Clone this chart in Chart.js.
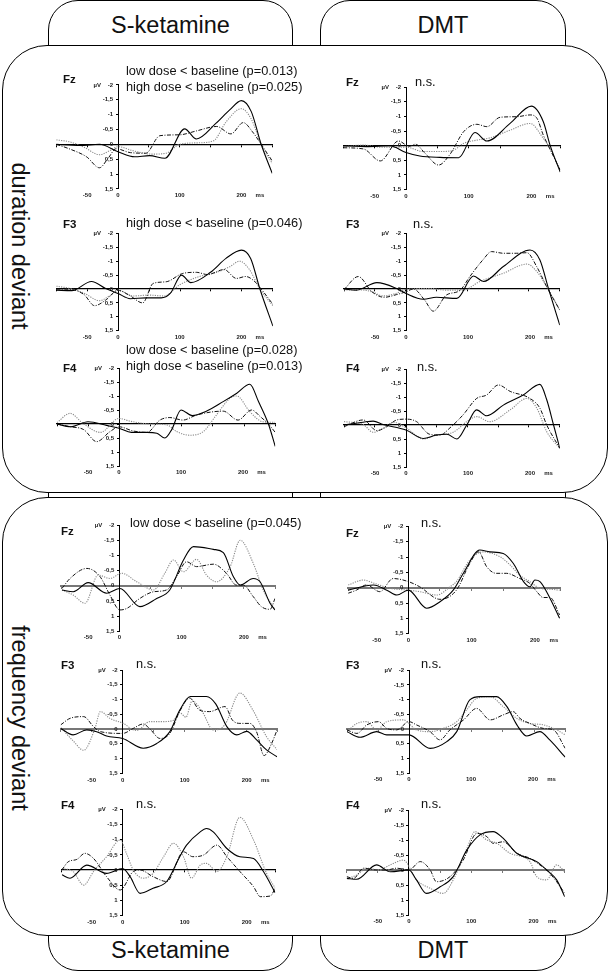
<!DOCTYPE html>
<html>
<head>
    <meta charset="UTF-8">
    <title>MMN amplitude curves</title>
    <script src="https://cdn.jsdelivr.net/npm/chart.js"></script>
    <style>
        body { margin: 0; background: #fff; }
        #fig { position: relative; width: 610px; height: 971px; overflow: hidden; font-family: "Liberation Sans", Arial, sans-serif; color: #111; }
        .col, .box { position: absolute; box-sizing: border-box; border: 1px solid #000; background: #fff; }
        .col { border-radius: 30px; }
        .box { border-radius: 45px; }
        .tab { position: absolute; font-size: 23.5px; text-align: center; line-height: 24px; }
        .side { position: absolute; font-size: 23.5px; white-space: nowrap; line-height: 24px; transform: translate(-50%, -50%) rotate(90deg); }
        .txt { position: absolute; white-space: nowrap; }
        canvas { position: absolute; }
    </style>
</head>
<body>
<div id="fig">
    <div class="col" style="left:48px;top:0;width:245px;height:971px;"></div>
    <div class="col" style="left:320px;top:0;width:246px;height:971px;"></div>
    <div class="box" style="left:2px;top:45px;width:606px;height:448px;"></div>
    <div class="box" style="left:2px;top:497px;width:606px;height:439px;"></div>
    <div class="tab" style="left:48px;top:13px;width:245px;">S-ketamine</div>
    <div class="tab" style="left:320px;top:13px;width:246px;">DMT</div>
    <div class="tab" style="left:48px;top:938px;width:245px;">S-ketamine</div>
    <div class="tab" style="left:320px;top:938px;width:246px;">DMT</div>
    <div class="side" style="left:20px;top:246px;">duration deviant</div>
    <div class="side" style="left:20px;top:718px;">frequency deviant</div>
</div>
<script>
    // axes
    const yMin = -2, yMax = 1.5;
    const yStep = 0.5;
    const xTickStep = 50;
    const xLabelTicks = [-50, 0, 100, 200, 230];   // 230 carries the "ms" unit

    // panel texts (reading order: duration rows, then frequency rows; left S-ketamine, right DMT)
    const panelTitles = ['Fz', 'Fz', 'F3', 'F3', 'F4', 'F4', 'Fz', 'Fz', 'F3', 'F3', 'F4', 'F4'];
    const panelNotes = [
        ['low dose < baseline (p=0.013)', 'high dose < baseline (p=0.025)'],
        ['n.s.'],
        ['high dose < baseline (p=0.046)'],
        ['n.s.'],
        ['low dose < baseline (p=0.028)', 'high dose < baseline (p=0.013)'],
        ['n.s.'],
        ['low dose < baseline (p=0.045)'],
        ['n.s.'],
        ['n.s.'],
        ['n.s.'],
        ['n.s.'],
        ['n.s.']
    ];

    // [ms, µV] - solid (baseline), dashed (low dose), dotted (high dose)
    // duration deviant
    const durKetFzBase = [[-100,0],[-62,0.04],[-30,0],[0,0.25],[27,0.42],[51,0.38],[76,0.47],[108,-0.52],[127,-0.18],[159,-0.71],[181,-1.16],[200,-1.47],[216,-1.1],[232,0],[250,0.98]];
    const durKetFzLow = [[-100,0],[-78,0.16],[-51,0.42],[-30,0.79],[-16,0.47],[-3,0.15],[20,0.28],[45,0.3],[68,-0.29],[100,-0.32],[127,-0.45],[160,-0.6],[183,-0.35],[203,-0.73],[218,-0.42],[232,0],[250,0.56]];
    const durKetFzHigh = [[-100,-0.15],[-78,-0.08],[-55,0.1],[-30,0.35],[-12,0.2],[0,0.08],[25,0.22],[55,0.33],[78,0.3],[100,0],[130,-0.05],[155,-0.12],[175,-0.75],[200,-1.2],[216,-0.85],[232,0],[250,0.65]];

    const durDmtFzBase = [[-100,0],[-63,0.03],[-26,0],[0,0.23],[22,0.35],[54,0.4],[84,0.41],[110,-0.45],[129,-0.16],[166,-0.76],[200,-1.35],[219,-0.82],[230,0],[246,0.9]];
    const durDmtFzLow = [[-100,0.07],[-68,0.11],[-41,0.52],[-12,-0.16],[5,0.02],[15,-0.05],[30,0.25],[52,0.66],[70,0.3],[92,-0.48],[113,-0.73],[129,-0.65],[150,-0.97],[177,-0.99],[198,-1.05],[209,-0.93],[219,-0.36],[227,0],[246,0.83]];
    const durDmtFzHigh = [[-100,0.03],[-68,-0.02],[-40,0.05],[-15,0.05],[0,0.05],[28,0.2],[55,0.2],[76,0.15],[92,-0.08],[113,-0.19],[134,-0.27],[166,-0.53],[198,-0.76],[219,-0.25],[227,0],[246,0.83]];

    const durKetF3Base = [[-100,0.04],[-75,0.06],[-43,-0.27],[-20,-0.02],[0,0.16],[20,0.35],[45,0.32],[70,0.32],[85,0.15],[103,-0.5],[118,-0.23],[150,-0.6],[175,-1.1],[200,-1.4],[215,-1.1],[230,0],[251,1.33]];
    const durKetF3Low = [[-100,0],[-75,0.02],[-55,0.2],[-38,0.6],[-20,0.4],[0,0.05],[20,0.25],[40,0.5],[57,-0.2],[78,-0.26],[105,-0.56],[127,-0.6],[145,-0.52],[172,-0.7],[192,-0.38],[207,-0.45],[220,-0.3],[232,0],[251,0.55]];
    const durKetF3High = [[-100,-0.1],[-78,-0.02],[-55,0.15],[-30,0.42],[-12,0.22],[0,0.04],[25,0.25],[50,0.22],[75,0.25],[100,-0.15],[132,-0.45],[160,-0.6],[181,-0.8],[197,-1],[213,-0.7],[230,0],[251,0.6]];

    const durDmtF3Base = [[-100,0],[-80,0.04],[-47,-0.23],[-15,-0.02],[0,0.16],[28,0.37],[49,0.3],[82,0.34],[109,-0.47],[125,-0.27],[157,-0.81],[200,-1.41],[216,-1.05],[230,0],[248,1.3]];
    const durDmtF3Low = [[-100,0.02],[-77,-0.45],[-55,0.1],[-35,0.3],[-15,0.2],[0,0.1],[12,0],[30,0.4],[44,0.8],[65,0.22],[87,0.05],[103,-0.45],[124,-1.05],[138,-1.35],[157,-1.29],[178,-1.29],[195,-1.31],[211,-0.8],[227,-0.08],[248,0.76]];
    const durDmtF3High = [[-100,0.03],[-75,0.03],[-55,0.1],[-37,0.25],[-15,0.15],[0,0.01],[38,-0.02],[65,0.04],[92,0.04],[119,-0.27],[157,-0.57],[195,-0.9],[211,-0.63],[227,-0.08],[248,0.76]];

    const durKetF4Base = [[-100,0],[-78,0.1],[-50,-0.08],[-20,0.05],[0,0.15],[20,0.3],[45,0.3],[61,0.33],[74,0.5],[85,0.2],[100,-0.5],[118,-0.3],[140,-0.45],[168,-0.8],[190,-1.1],[211,-1.42],[225,-0.8],[241,0],[252,0.8]];
    const durKetF4Low = [[-100,0],[-78,0.1],[-57,0.2],[-36,0.63],[-15,0.28],[0,0.1],[23,0.25],[45,0.3],[66,-0.14],[82,-0.23],[103,-0.14],[125,-0.32],[168,-0.46],[192,-0.14],[214,-0.5],[228,-0.26],[241,0],[252,0.3]];
    const durKetF4High = [[-100,-0.05],[-79,-0.38],[-58,-0.02],[-30,0.3],[0,-0.2],[18,-0.1],[50,0],[77,0.03],[93,0.27],[114,0.4],[136,0.27],[157,-0.32],[179,-0.92],[190,-1],[211,-0.44],[232,-0.08],[252,-0.06]];

    const durDmtF4Base = [[-100,0],[-69,-0.1],[-53,-0.14],[-37,-0.02],[0,0.18],[28,0.48],[49,0.36],[66,0.33],[82,0.5],[98,0],[114,-0.54],[130,-0.33],[157,-0.71],[189,-1.07],[216,-1.45],[227,-0.9],[238,0],[248,0.83]];
    const durDmtF4Low = [[-100,0.06],[-69,-0.18],[-47,0.2],[-31,0.06],[-15,-0.18],[0,-0.21],[17,-0.12],[38,0.33],[55,0.36],[71,0.1],[92,-0.36],[114,-0.95],[130,-1.07],[149,-1.43],[168,-1.2],[200,-0.95],[216,-0.6],[227,0],[248,0.83]];
    const durDmtF4High = [[-100,-0.12],[-69,-0.02],[-53,0.26],[-37,0.12],[-20,-0.1],[0,0.1],[28,0.5],[49,0.36],[76,0.26],[98,-0.12],[114,-0.3],[135,-0.12],[168,-0.54],[195,-0.95],[211,-0.6],[227,0.24],[248,0.83]];

    // frequency deviant
    const frqKetFzBase = [[-92,0.14],[-74,0.2],[-50,-0.1],[-20,0.25],[1,0.09],[33,0.69],[60,0.42],[81,0.14],[103,-0.85],[119,-1.29],[151,-1.2],[167,-1.09],[183,-0.3],[194,-0.02],[215,-0.24],[226,-0.13],[242,0.58],[250,0.8]];
    const frqKetFzLow = [[-92,0.09],[-79,-0.24],[-52,-0.57],[-31,-0.3],[-15,0.31],[1,0.8],[12,0.75],[33,0.42],[55,0.2],[76,0.14],[92,-0.3],[108,-0.79],[124,-0.63],[151,-0.71],[172,-0.41],[188,-0.02],[199,-0.02],[215,0.36],[228,0.69],[242,0.78],[250,0.42]];
    const frqKetFzHigh = [[-92,0.14],[-74,0.31],[-55,0.58],[-34,-0.35],[-15,-0.24],[4,-0.41],[28,-0.13],[55,0.14],[73,-0.41],[87,-0.85],[103,-0.46],[124,-0.87],[140,-0.35],[156,-0.13],[178,-0.63],[194,-1.5],[215,-0.74],[231,0.14],[250,0.8]];

    const frqDmtFzBase = [[-95,0.08],[-55,-0.09],[-34,0.08],[-18,0.24],[0,0.08],[29,0.67],[50,0.46],[71,0.08],[87,-0.47],[113,-1.23],[129,-1.17],[150,-1.12],[166,-0.79],[182,-0.2],[192,-0.03],[200,-0.25],[208,-0.2],[224,0.35],[239,1]];
    const frqDmtFzLow = [[-95,0.18],[-82,0.08],[-66,-0.09],[-45,0.13],[-24,-0.3],[0,-0.2],[18,-0.03],[50,0.38],[76,0.08],[97,-0.79],[111,-1.17],[124,-0.68],[139,-0.47],[155,-0.47],[176,-0.3],[192,-0.14],[203,0.13],[213,0.32],[224,0.32],[239,0.89]];
    const frqDmtFzHigh = [[-95,-0.09],[-71,-0.25],[-53,-0.14],[-29,0.02],[0,0.08],[18,0.13],[45,0.24],[66,-0.03],[76,-0.2],[97,-0.9],[118,-1.17],[145,-1.01],[161,-0.74],[176,-0.41],[192,-0.2],[208,0.02],[224,0.05],[239,0.08]];

    const frqKetF3Base = [[-100,-0.02],[-80,0.2],[-58,0.03],[-42,0.09],[-26,0.24],[0,0.32],[33,0.65],[55,0.49],[76,0.09],[92,-0.64],[109,-1.1],[135,-1.1],[150,-0.85],[168,-0.08],[184,0.2],[200,0.08],[216,0.37],[232,0.71],[249,0.94]];
    const frqKetF3Low = [[-100,-0.14],[-85,-0.36],[-63,-0.42],[-47,-0.08],[-36,0.09],[0,0.15],[17,-0.02],[33,-0.17],[44,0],[60,0.32],[76,0.15],[92,-0.6],[108,-1.05],[124,-0.64],[140,-0.59],[165,-0.76],[177,-0.3],[189,-0.19],[205,-0.19],[216,0.1],[228,0.9],[240,0.5],[249,0.03]];
    const frqKetF3High = [[-100,-0.05],[-80,0.4],[-63,0.72],[-45,0],[-36,-0.59],[-20,-0.35],[0,-0.2],[22,0.05],[44,-0.25],[65,-0.25],[82,-0.3],[92,-0.55],[102,-0.4],[112,-0.95],[128,-0.6],[146,0.03],[165,-0.15],[189,-1.22],[210,-0.64],[232,0.26],[249,0.7]];

    const frqDmtF3Base = [[-100,0.09],[-79,0.28],[-52,0.09],[-36,0.2],[0,0.2],[34,0.66],[61,0.43],[77,0.09],[98,-0.99],[115,-1.1],[141,-1.1],[158,-0.76],[174,-0.14],[190,0.24],[211,0.09],[227,0.37],[252,0.96]];
    const frqDmtF3Low = [[-100,0.03],[-84,0.15],[-68,-0.14],[-49,-0.25],[-36,-0.02],[-20,0.03],[0,-0.25],[12,-0.14],[34,0.09],[50,0.37],[66,0.03],[88,-0.31],[109,-0.7],[131,-0.31],[152,-0.48],[168,-0.59],[179,-0.36],[195,-0.19],[217,-0.02],[233,0.03],[252,0.66]];
    const frqDmtF3High = [[-100,0.09],[-84,-0.19],[-68,-0.25],[-52,0.03],[-36,-0.25],[-9,-0.31],[12,0.03],[34,0.09],[55,-0.02],[77,-0.25],[93,-0.65],[109,-1.04],[131,-1.1],[152,-0.76],[174,-0.36],[195,-0.19],[217,-0.14],[238,0.03],[252,0.2]];

    const frqKetF4Base = [[-98,0.16],[-85,0.27],[-58,-0.16],[-26,0.11],[0,-0.05],[12,0.22],[28,0.77],[49,0.6],[71,0.38],[92,-0.44],[103,-0.82],[125,-1.26],[135,-1.37],[146,-1.26],[168,-0.71],[189,-0.44],[211,-0.38],[227,0.05],[246,0.75]];
    const frqKetF4Low = [[-98,0],[-88,-0.27],[-74,-0.35],[-61,-0.55],[-47,-0.38],[-26,0.22],[-4,0.66],[17,0.05],[28,0],[49,0.22],[71,0.38],[98,-0.6],[113,-0.44],[130,-0.49],[152,-0.82],[168,-0.44],[189,0.05],[211,0.55],[222,0.88],[238,0.86],[246,0.6]];
    const frqKetF4High = [[-98,-0.05],[-80,0.05],[-63,0.5],[-47,0.05],[-26,-0.44],[-4,-0.99],[6,-0.55],[17,0],[33,0.27],[49,0.11],[66,-0.44],[82,-0.88],[98,-0.44],[111,0.27],[125,-0.16],[135,-0.22],[152,0.05],[168,-0.44],[189,-1.74],[211,-0.99],[232,0.11],[246,0.6]];

    const frqDmtF4Base = [[-100,0.28],[-84,0.31],[-52,-0.17],[-30,0.06],[0,0],[12,0.33],[28,0.78],[50,0.56],[71,0.22],[93,-0.67],[114,-1.17],[135,-1.28],[151,-1.06],[173,-0.56],[205,-0.28],[221,0],[237,0.33],[250,0.89]];
    const frqDmtF4Low = [[-100,0.22],[-89,0.28],[-73,-0.06],[-52,0],[-36,0],[-20,-0.06],[0,0],[18,-0.28],[34,0],[44,0.39],[66,0.22],[87,-0.33],[109,-1.22],[125,-1.11],[135,-0.89],[151,-0.94],[173,-0.56],[194,-0.39],[210,-0.17],[221,0],[237,0.39],[250,0.78]];
    const frqDmtF4High = [[-100,0.28],[-84,0.17],[-68,-0.06],[-49,0],[-30,-0.17],[-9,-0.33],[12,0.33],[34,0.61],[55,0.78],[71,0.33],[93,-0.72],[106,-1.28],[125,-1],[141,-0.89],[162,-0.56],[194,-0.28],[205,0.22],[221,0.33],[237,-0.17],[250,0.06]];

    const panelSeries = [
        [durKetFzBase, durKetFzLow, durKetFzHigh], [durDmtFzBase, durDmtFzLow, durDmtFzHigh],
        [durKetF3Base, durKetF3Low, durKetF3High], [durDmtF3Base, durDmtF3Low, durDmtF3High],
        [durKetF4Base, durKetF4Low, durKetF4High], [durDmtF4Base, durDmtF4Low, durDmtF4High],
        [frqKetFzBase, frqKetFzLow, frqKetFzHigh], [frqDmtFzBase, frqDmtFzLow, frqDmtFzHigh],
        [frqKetF3Base, frqKetF3Low, frqKetF3High], [frqDmtF3Base, frqDmtF3Low, frqDmtF3High],
        [frqKetF4Base, frqKetF4Low, frqKetF4High], [frqDmtF4Base, frqDmtF4Low, frqDmtF4High]
    ];

    // where each small plot sits on the page (0 ms x, 0 µV y, px per ms, px per µV, time span)
    const layout = [
        {ax: 118,   zy: 144.3, ms: 0.617, uv: 29.7, x0: -100, x1: 250, zc: '#000', title: [63, 84],     note: [126, 75.7]},
        {ax: 406,   zy: 145.7, ms: 0.627, uv: 29.3, x0: -100, x1: 246, zc: '#000', title: [346, 86.7],   note: [415, 86.7]},
        {ax: 118,   zy: 289,   ms: 0.617, uv: 27.8, x0: -100, x1: 251, zc: '#000', title: [63, 228.3],   note: [126, 228.3]},
        {ax: 406,   zy: 289,   ms: 0.62,  uv: 27.7, x0: -100, x1: 248, zc: '#000', title: [346, 229],    note: [413, 229]},
        {ax: 119,   zy: 424,   ms: 0.62,  uv: 28,   x0: -100, x1: 252, zc: '#000', title: [63, 372.3],   note: [126, 355]},
        {ax: 406,   zy: 425,   ms: 0.62,  uv: 28,   x0: -100, x1: 248, zc: '#000', title: [346, 372.3],  note: [417, 372.3]},
        {ax: 119.3, zy: 585.7, ms: 0.623, uv: 30.3, x0: -93,  x1: 250, zc: '#777', title: [61, 536],     note: [130, 528.3]},
        {ax: 408.3, zy: 587.7, ms: 0.633, uv: 30.6, x0: -95,  x1: 240, zc: '#777', title: [346, 537.3],  note: [421, 528.3]},
        {ax: 122.7, zy: 729,   ms: 0.62,  uv: 29.5, x0: -100, x1: 249, zc: '#777', title: [61, 669.3],   note: [136, 669.3]},
        {ax: 409,   zy: 729,   ms: 0.62,  uv: 29.4, x0: -100, x1: 252, zc: '#777', title: [346, 669.3],  note: [421, 669.3]},
        {ax: 122.7, zy: 870,   ms: 0.62,  uv: 30.3, x0: -98,  x1: 246, zc: '#000', title: [61, 809.3],   note: [136, 809.3]},
        {ax: 409,   zy: 870,   ms: 0.623, uv: 30,   x0: -100, x1: 250, zc: '#777', title: [346, 809.3],  note: [421, 809.3]}
    ];

    const lineStyles = [
        {borderColor: '#000', borderWidth: 1.1, borderDash: []},
        {borderColor: '#111', borderWidth: 1, borderDash: [4, 1.5, 1, 1.5]},
        {borderColor: '#8a8a8a', borderWidth: 1.1, borderDash: [1.2, 1.2]}
    ];

    const fig = document.getElementById('fig');
    const tickFont = {family: '"Liberation Sans", Arial, sans-serif', size: 6, weight: 'bold'};

    function addText(txt, x, baseline, size, bold) {
        const d = document.createElement('div');
        d.className = 'txt';
        d.textContent = txt;
        d.style.left = x + 'px';
        d.style.top = (baseline - 0.846 * size) + 'px';
        d.style.fontSize = size + 'px';
        d.style.lineHeight = size + 'px';
        if (bold) d.style.fontWeight = 'bold';
        fig.appendChild(d);
    }

    function fmtUV(v) {
        const s = String(Math.round(v * 10) / 10).replace('.', ',');
        return (v === yMin ? 'µV    ' + s : s) + '   ';
    }

    function makePanel(i) {
        const L = layout[i];
        const areaW = (L.x1 - L.x0) * L.ms;
        const areaH = (yMax - yMin) * L.uv;
        const areaLeft = L.ax + L.x0 * L.ms;
        const areaTop = L.zy + yMin * L.uv;
        const cLeft = Math.floor(areaLeft - 6), cTop = Math.floor(areaTop - 8);
        const cW = Math.ceil(areaLeft + areaW + 8) - cLeft;
        const cH = Math.ceil(areaTop + areaH + 16) - cTop;
        const pad = {
            left: areaLeft - cLeft, top: areaTop - cTop,
            right: cW - (areaLeft - cLeft) - areaW, bottom: cH - (areaTop - cTop) - areaH
        };

        const cv = document.createElement('canvas');
        cv.width = cW; cv.height = cH;
        cv.style.left = cLeft + 'px'; cv.style.top = cTop + 'px';
        cv.style.width = cW + 'px'; cv.style.height = cH + 'px';
        fig.appendChild(cv);

        const datasets = panelSeries[i].map((arr, k) => Object.assign({
            data: arr.map(p => ({x: p[0], y: p[1]})),
            fill: false,
            pointRadius: 0,
            cubicInterpolationMode: 'monotone'
        }, lineStyles[k]));

        const zeroW = L.zc === '#000' ? 1.3 : 2;

        new Chart(cv.getContext('2d'), {
            type: 'line',
            data: {datasets: datasets},
            options: {
                responsive: false,
                animation: false,
                devicePixelRatio: 1,
                layout: {padding: pad},
                plugins: {legend: {display: false}, tooltip: {enabled: false}},
                scales: {
                    x: {
                        type: 'linear', min: L.x0, max: L.x1,
                        position: {y: 0},
                        border: {display: true, color: L.zc, width: zeroW},
                        grid: {display: true, drawOnChartArea: false, drawTicks: true, tickLength: 2, color: L.zc},
                        ticks: {display: false, stepSize: xTickStep}
                    },
                    xl: {
                        type: 'linear', axis: 'x', min: L.x0, max: L.x1,
                        position: {y: yMax},
                        border: {display: false},
                        grid: {display: false, drawTicks: false},
                        afterBuildTicks: s => { s.ticks = xLabelTicks.map(v => ({value: v})); },
                        ticks: {
                            autoSkip: false, maxRotation: 0, padding: 3,
                            font: tickFont, color: '#222',
                            callback: v => v === 230 ? 'ms' : String(v)
                        }
                    },
                    y: {
                        type: 'linear', min: yMin, max: yMax, reverse: true,
                        position: {x: 0},
                        border: {display: true, color: '#000', width: 1},
                        grid: {display: true, drawOnChartArea: false, drawTicks: true, tickLength: 2, color: '#000'},
                        ticks: {stepSize: yStep, font: tickFont, color: '#222', callback: v => fmtUV(v)}
                    }
                }
            }
        });

        addText(panelTitles[i], L.title[0], L.title[1], 11.5, true);
        panelNotes[i].forEach((t, k) => addText(t, L.note[0], L.note[1] + k * 16, 12.8, false));
    }

    for (let i = 0; i < layout.length; i++) makePanel(i);
</script>
</body>
</html>
